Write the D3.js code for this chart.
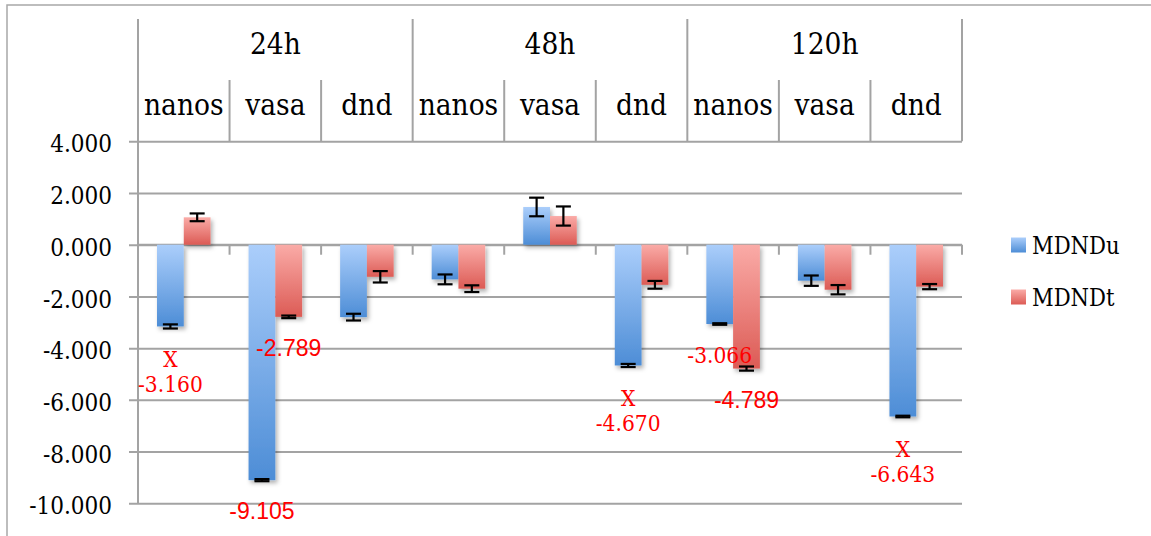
<!DOCTYPE html>
<html>
<head>
<meta charset="utf-8">
<script src="https://cdn.jsdelivr.net/npm/d3@7"></script>
<style>
  html, body { margin: 0; padding: 0; background: #fff; }
  svg { display: block; }
  .serif { font-family: "DejaVu Serif Condensed", "DejaVu Serif", serif; font-stretch: condensed; }
  .sans { font-family: "Liberation Sans", Arial, Helvetica, sans-serif; }
</style>
</head>
<body>
<svg id="chart" width="1151" height="536"></svg>
<script>
// Time points and genes along the category axis
const groups = ["24h", "48h", "120h"];
const genes = ["nanos", "vasa", "dnd"];
const seriesNames = ["MDNDu", "MDNDt"];

// Relative expression per (time point, gene), in group order
const mdndu = [-3.160, -9.105, -2.800, -1.340, 1.460, -4.670, -3.066, -1.390, -6.643];
const mdndt = [1.060, -2.789, -1.240, -1.700, 1.110, -1.550, -4.789, -1.740, -1.620];

// Error bar half-lengths
const mdnduErr = [0.08, 0.04, 0.13, 0.19, 0.36, 0.06, 0.03, 0.20, 0.03];
const mdndtErr = [0.15, 0.05, 0.22, 0.13, 0.37, 0.15, 0.08, 0.18, 0.10];

// Value axis ticks
const yTicks = [4, 2, 0, -2, -4, -6, -8, -10];

// Red value callouts: which series/category, and whether an "X" sits above the number
const callouts = [
  { series: "MDNDu", index: 0, mark: true,  sans: false },
  { series: "MDNDu", index: 1, mark: false, sans: true  },
  { series: "MDNDt", index: 1, mark: false, sans: true  },
  { series: "MDNDu", index: 5, mark: true,  sans: false },
  { series: "MDNDu", index: 6, mark: false, sans: false },
  { series: "MDNDt", index: 6, mark: false, sans: true  },
  { series: "MDNDu", index: 8, mark: true,  sans: false }
];

const values = { MDNDu: mdndu, MDNDt: mdndt };
const errors = { MDNDu: mdnduErr, MDNDt: mdndtErr };

const categories = [];
groups.forEach(g => genes.forEach(n => categories.push(g + "|" + n)));

const gridColor = "#a3a3a3";

const svg = d3.select("#chart");
const plot = { left: 138, right: 962, top: 141.3, bottom: 503.3 };
const headerTop = 19, subHeaderTop = 80;

// Outer frame
svg.append("rect")
  .attr("x", 7).attr("y", 5).attr("width", 1160).attr("height", 560)
  .attr("fill", "none").attr("stroke", "#a8a8a8").attr("stroke-width", 1.5);

const x = d3.scaleBand().domain(categories).range([plot.left, plot.right]).padding(0);
const xs = d3.scaleBand().domain(seriesNames).range([0, x.bandwidth()])
  .paddingInner(0).paddingOuter(0.71);
const y = d3.scaleLinear().domain([-10, 4]).range([plot.bottom, plot.top]);
const fmt = d => d.toFixed(3);

const defs = svg.append("defs");
const grads = {
  MDNDu: ["#abcefb", "#4d8dd6"],
  MDNDt: ["#faaba7", "#dc5b55"]
};
Object.entries(grads).forEach(([k, [c0, c1]]) => {
  const g = defs.append("linearGradient").attr("id", "g-" + k)
    .attr("x1", 0).attr("y1", 0).attr("x2", 0).attr("y2", 1);
  g.append("stop").attr("offset", "0%").attr("stop-color", c0);
  g.append("stop").attr("offset", "100%").attr("stop-color", c1);
});
const shadow = defs.append("filter").attr("id", "shadow")
  .attr("x", "-30%").attr("y", "-10%").attr("width", "160%").attr("height", "130%");
shadow.append("feDropShadow").attr("dx", 2).attr("dy", 3)
  .attr("stdDeviation", 2.2).attr("flood-color", "#000").attr("flood-opacity", 0.3);

// Gridlines with outward ticks on the value axis
const yAxis = d3.axisLeft(y).tickValues(yTicks).tickFormat(fmt)
  .tickSize(-(plot.right - plot.left)).tickPadding(0);
const gy = svg.append("g").attr("transform", `translate(${plot.left},0)`).call(yAxis)
  .attr("font-family", null).attr("font-size", null);
gy.select(".domain").remove();
gy.selectAll(".tick line")
  .attr("x1", -9)
  .attr("stroke", gridColor).attr("stroke-width", 2);
gy.selectAll(".tick text")
  .attr("class", "serif")
  .attr("x", -26).attr("dy", "0.44em")
  .style("font-size", "24px").attr("fill", "#000");

// Value axis line, running up through the header
svg.append("line")
  .attr("x1", plot.left).attr("x2", plot.left)
  .attr("y1", headerTop).attr("y2", plot.bottom)
  .attr("stroke", gridColor).attr("stroke-width", 2);

// Category axis at zero with downward ticks at each boundary
const zeroY = y(0);
svg.append("line")
  .attr("x1", plot.left).attr("x2", plot.right)
  .attr("y1", zeroY).attr("y2", zeroY)
  .attr("stroke", gridColor).attr("stroke-width", 2);
const boundaries = categories.map(c => x(c) + x.bandwidth()).concat([plot.left]);
svg.append("g").selectAll("line").data(boundaries).join("line")
  .attr("x1", d => d).attr("x2", d => d)
  .attr("y1", zeroY).attr("y2", zeroY + 10)
  .attr("stroke", gridColor).attr("stroke-width", 2);

// Two-level category header
const header = svg.append("g");
categories.forEach((c, i) => {
  const x0 = x(c), x1 = x0 + x.bandwidth();
  const isGroupEdge = (i % genes.length) === 0;
  header.append("line")
    .attr("x1", x0).attr("x2", x0)
    .attr("y1", isGroupEdge ? headerTop : subHeaderTop).attr("y2", plot.top)
    .attr("stroke", gridColor).attr("stroke-width", 2);
  header.append("text")
    .attr("class", "serif")
    .attr("x", (x0 + x1) / 2).attr("y", 115)
    .attr("text-anchor", "middle")
    .style("font-size", "29.5px")
    .text(c.split("|")[1]);
});
header.append("line")
  .attr("x1", plot.right).attr("x2", plot.right)
  .attr("y1", headerTop).attr("y2", plot.top)
  .attr("stroke", gridColor).attr("stroke-width", 2);
groups.forEach(g => {
  const first = x(g + "|" + genes[0]);
  const last = x(g + "|" + genes[genes.length - 1]) + x.bandwidth();
  header.append("text")
    .attr("class", "serif")
    .attr("x", (first + last) / 2).attr("y", 53.5)
    .attr("text-anchor", "middle")
    .style("font-size", "29.5px")
    .text(g);
});

// Bars
const barData = [];
seriesNames.forEach(s => categories.forEach((c, i) => {
  barData.push({ s, c, i, v: values[s][i], e: errors[s][i] });
}));
svg.append("g").attr("filter", "url(#shadow)")
  .selectAll("rect").data(barData).join("rect")
  .attr("x", d => x(d.c) + xs(d.s))
  .attr("width", xs.bandwidth())
  .attr("y", d => y(Math.max(0, d.v)))
  .attr("height", d => Math.abs(y(d.v) - y(0)))
  .attr("fill", d => `url(#g-${d.s})`);

// Error bars
const cap = 7.5;
const eg = svg.append("g").attr("stroke", "#000").attr("stroke-width", 2.2);
barData.forEach(d => {
  const cx = x(d.c) + xs(d.s) + xs.bandwidth() / 2;
  const y0 = y(d.v + d.e), y1 = y(d.v - d.e);
  eg.append("line").attr("x1", cx).attr("x2", cx).attr("y1", y0).attr("y2", y1);
  eg.append("line").attr("x1", cx - cap).attr("x2", cx + cap).attr("y1", y0).attr("y2", y0);
  eg.append("line").attr("x1", cx - cap).attr("x2", cx + cap).attr("y1", y1).attr("y2", y1);
});

// Red value callouts beneath the bar ends
const cg = svg.append("g").attr("fill", "#ff0000").attr("text-anchor", "middle");
callouts.forEach(d => {
  const c = categories[d.index];
  const v = values[d.series][d.index];
  const cx = x(c) + xs(d.series) + xs.bandwidth() / 2;
  const end = y(v);
  if (d.mark) {
    cg.append("text").attr("class", "serif").attr("x", cx).attr("y", end + 32 + 8.1)
      .style("font-size", "22.5px").text("X");
    cg.append("text").attr("class", "serif").attr("x", cx).attr("y", end + 57.5 + 8.2)
      .style("font-size", "22.5px").text(fmt(v));
  } else {
    cg.append("text").attr("class", d.sans ? "sans" : "serif")
      .attr("x", cx).attr("y", end + 31 + 8.3)
      .style("font-size", d.sans ? "23px" : "22.5px").text(fmt(v));
  }
});

// Legend
const legend = svg.append("g");
seriesNames.forEach((s, i) => {
  const ly = 245 + i * 52;
  legend.append("rect").attr("x", 1011).attr("y", ly - 7.5)
    .attr("width", 15).attr("height", 15).attr("fill", `url(#g-${s})`);
  legend.append("text").attr("class", "serif").attr("x", 1032).attr("y", ly + 8.5)
    .style("font-size", "23.5px").text(s);
});
</script>
</body>
</html>
